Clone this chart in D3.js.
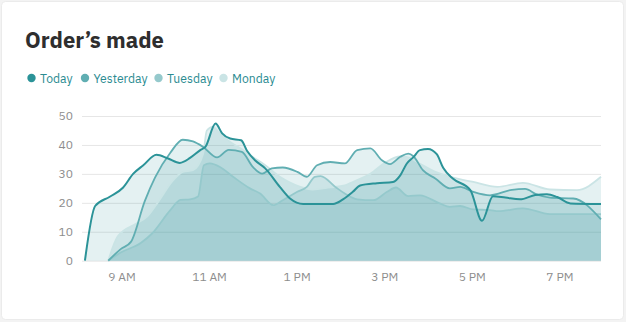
<!DOCTYPE html>
<html>
<head>
<meta charset="utf-8">
<script src="https://cdn.jsdelivr.net/npm/d3@7"></script>
<style>
  html, body { margin: 0; padding: 0; background: #f3f3f3; }
  svg { display: block; }
</style>
</head>
<body>
<svg id="chart" width="626" height="322"></svg>
<script>
// ---- data ----
const title = "Order’s made";
const seriesNames = ["Today", "Yesterday", "Tuesday", "Monday"];
const seriesColors = ["#2b9398", "#60aeb2", "#95c9cc", "#cae4e5"];

const today = [
  ["8:10",0],["8:24",18.9],["8:44",22.1],["9:02",25.2],["9:16",30],["9:30",33],["9:48",36.6],
  ["10:04",35.3],["10:20",33.8],["10:34",35.5],["10:48",38.2],["10:55",39.3],["11:09",47.4],
  ["11:18",44],["11:29",42.2],["11:44",41.6],["11:52",38],["12:03",34.7],["12:17",31.9],
  ["12:37",25.5],["12:51",21.5],["13:09",19.6],["13:50",19.6],["14:04",21.3],["14:17",23.8],
  ["14:27",26],["14:50",26.8],["15:12",27.2],["15:22",29.5],["15:31",33.6],["15:40",35.8],
  ["15:49",38.2],["16:00",38.6],["16:12",36.8],["16:21",32],["16:34",28.4],["16:58",24.4],
  ["17:14",13.8],["17:29",22.3],["17:46",21.8],["18:06",21.2],["18:27",22.7],["18:43",23],
  ["18:57",22],["19:15",19.8],["19:57",19.6]
];
const yesterday = [
  ["8:42",0],["8:59",4],["9:13",6.5],["9:32",20.6],["9:46",28.7],["10:07",37.3],["10:24",41.8],
  ["10:38",41.2],["10:52",39.3],["11:11",35.7],["11:27",38.3],["11:45",37.6],["12:00",32.4],
  ["12:13",30.1],["12:26",31.9],["12:41",32.2],["13:01",30.7],["13:14",29],["13:28",33],
  ["13:46",34.1],["14:06",33.6],["14:23",38.2],["14:41",38.8],["14:57",34.7],["15:08",33.4],
  ["15:22",35.9],["15:33",37],["15:40",36.1],["15:53",31.3],["16:10",28.4],["16:30",25],
  ["16:44",25.5],["17:02",23.8],["17:25",22.6],["17:55",24.5],["18:13",24.8],["18:29",22.9],
  ["18:47",21.8],["19:19",21.5],["19:57",14.3]
];
const tuesday = [
  ["8:42",0],["8:59",2.8],["9:27",6.2],["9:42",9.4],["10:07",17.5],["10:21",21],["10:34",21.2],
  ["10:45",22.2],["10:53",33],["11:01",33.6],["11:15",32.4],["11:33",29],["11:56",25],
  ["12:10",23.2],["12:28",19.2],["12:41",20.9],["13:01",23.8],["13:14",25.5],["13:25",29],
  ["13:33",29.2],["13:53",25.5],["14:06",23.2],["14:23",21.2],["14:45",20.9],["15:04",23.8],
  ["15:16",25.3],["15:33",22.3],["15:49",22.6],["16:16",19.8],["16:30",18.6],["16:44",18.9],
  ["17:02",17.7],["17:25",17.5],["17:36",17.1],["18:10",18.1],["18:47",16.1],["19:57",16.1]
];
const monday = [
  ["8:42",0],["8:55",8.4],["9:21",12.9],["9:35",15.2],["9:49",19.8],["10:11",27.8],["10:24",30.7],
  ["10:38",31.3],["10:52",37],["10:57",45],["11:05",46.2],["11:15",44],["11:29",41],["11:42",39],
  ["11:59",36],["12:17",33],["12:37",29],["12:51",27],["13:05",25.5],["13:22",24.6],["13:46",25.3],
  ["14:06",26],["14:17",27.2],["14:41",30],["15:02",34],["15:22",36],["15:35",35.5],["15:49",33.5],
  ["16:12",30.5],["16:30",29],["16:40",28.4],["17:02",27.2],["17:35",25.5],["18:10",26.9],
  ["18:47",24.6],["19:24",24.4],["19:57",29]
];
const yTicks = [0, 10, 20, 30, 40, 50];
const xTicks = ["9:00", "11:00", "13:00", "15:00", "17:00", "19:00"];
const xTickLabels = ["9 AM", "11 AM", "1 PM", "3 PM", "5 PM", "7 PM"];
const xDomain = ["8:06", "19:57"];

// ---- helpers ----
const toMin = s => { const [h, m] = s.split(":").map(Number); return h * 60 + m; };
const allSeries = [today, yesterday, tuesday, monday].map(arr => arr.map(([t, v]) => ({ t: toMin(t), v })));

const svg = d3.select("#chart");
const font = "'IBM Plex Sans', 'Noto Sans', 'Open Sans', sans-serif";

// card
svg.append("rect")
  .attr("x", 1.5).attr("y", 1.5).attr("width", 622).attr("height", 318)
  .attr("rx", 4).attr("fill", "#ffffff").attr("stroke", "#ebebeb");

// title
svg.append("text")
  .attr("x", 25).attr("y", 48)
  .attr("font-family", font).attr("font-weight", 700).attr("font-size", 22)
  .attr("fill", "#2e2e2e").text(title);

// legend
const legendX = [31.5, 85, 158.5, 223.5];
const legend = svg.append("g");
seriesNames.forEach((name, i) => {
  legend.append("circle").attr("cx", legendX[i]).attr("cy", 78).attr("r", 4.2).attr("fill", seriesColors[i]);
  legend.append("text").attr("x", legendX[i] + 8.5).attr("y", 82.5)
    .attr("font-family", font).attr("font-size", 12.2).attr("fill", "#2a8b91").text(name);
});

// scales
const x = d3.scaleLinear().domain(xDomain.map(toMin)).range([82, 601]);
const y = d3.scaleLinear().domain([0, 50]).range([260.7, 116]);

// y grid + labels
const yAxis = d3.axisLeft(y).tickValues(yTicks).tickSize(-(601 - 82)).tickPadding(9);
const gy = svg.append("g").attr("transform", "translate(82,0)").call(yAxis);
gy.select(".domain").remove();
gy.selectAll(".tick line").attr("stroke", "#e6e6e6").attr("stroke-width", 1);
gy.selectAll(".tick text").attr("font-family", font).attr("font-size", 12).attr("fill", "#8d8d8d");

// x labels
const xAxis = d3.axisBottom(x).tickValues(xTicks.map(toMin))
  .tickFormat((d, i) => xTickLabels[i]).tickSize(0).tickPadding(12);
const gx = svg.append("g").attr("transform", "translate(0,260.7)").call(xAxis);
gx.select(".domain").remove();
gx.selectAll(".tick text").attr("font-family", font).attr("font-size", 12).attr("fill", "#8d8d8d");

// areas
const curve = d3.curveMonotoneX;
const area = d3.area().curve(curve).x(d => x(d.t)).y0(y(0)).y1(d => y(d.v));
const line = d3.line().curve(curve).x(d => x(d.t)).y(d => y(d.v));

const order = [3, 2, 1, 0];
order.forEach(i => {
  svg.append("path").datum(allSeries[i]).attr("d", area)
    .attr("fill", "#2b9398").attr("fill-opacity", 0.125);
});
order.forEach(i => {
  svg.append("path").datum(allSeries[i]).attr("d", line)
    .attr("fill", "none").attr("stroke", seriesColors[i])
    .attr("stroke-width", i === 0 ? 2 : 1.8).attr("stroke-linejoin", "round");
});
</script>
</body>
</html>
